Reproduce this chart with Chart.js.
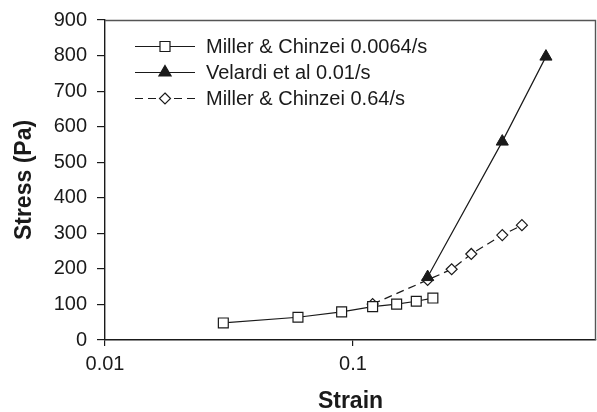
<!DOCTYPE html>
<html>
<head>
<meta charset="utf-8">
<script src="https://cdn.jsdelivr.net/npm/chart.js@4/dist/chart.umd.min.js"></script>
<style>
	html, body { margin: 0; padding: 0; background: #fff; }
	#wrap { width: 597px; height: 412px; }
</style>
</head>
<body>
<div id="wrap"><canvas id="stressChart" width="597" height="412"></canvas></div>
<script>
// Data
const seriesNames = ['Miller & Chinzei 0.0064/s', 'Velardi et al 0.01/s', 'Miller & Chinzei 0.64/s'];

const mcSlowStrain = [0.03, 0.06, 0.09, 0.12, 0.15, 0.18, 0.21];
const mcSlowStress = [48, 64, 79, 94, 101, 109, 118];

const velardiStrain = [0.2, 0.4, 0.6];
const velardiStress = [177, 558, 797];

const mcFastStrain = [0.12, 0.2, 0.25, 0.3, 0.4, 0.48];
const mcFastStress = [101, 169, 199, 242, 295, 323];

const xTickValues = [0.01, 0.1];
const yTickValues = [0, 100, 200, 300, 400, 500, 600, 700, 800, 900];

const FONT = '"Liberation Sans", Arial, Helvetica, sans-serif';
const INK = '#1a1a1a';

function toPoints(xs, ys) {
	return xs.map((x, i) => ({ x: x, y: ys[i] }));
}

// draws one marker (used by the hand made legend)
function drawMarker(ctx, style, x, y) {
	ctx.save();
	ctx.lineWidth = 1.2;
	ctx.strokeStyle = INK;
	ctx.beginPath();
	if (style === 'rect') {
		ctx.rect(x - 5, y - 5, 10, 10);
		ctx.fillStyle = '#fff';
	} else if (style === 'triangle') {
		ctx.moveTo(x, y - 7);
		ctx.lineTo(x + 6.1, y + 3.5);
		ctx.lineTo(x - 6.1, y + 3.5);
		ctx.closePath();
		ctx.fillStyle = INK;
	} else {
		ctx.moveTo(x, y - 5.5);
		ctx.lineTo(x + 5.5, y);
		ctx.lineTo(x, y + 5.5);
		ctx.lineTo(x - 5.5, y);
		ctx.closePath();
		ctx.fillStyle = '#fff';
	}
	ctx.fill();
	ctx.stroke();
	ctx.restore();
}

const legendPlugin = {
	id: 'sketchLegend',
	afterDraw(chart) {
		const ctx = chart.ctx;
		const rows = [46.5, 72.5, 98.5];
		chart.data.datasets.forEach((ds, i) => {
			const y = rows[i];
			ctx.save();
			ctx.strokeStyle = INK;
			ctx.lineWidth = 1.2;
			ctx.setLineDash(ds.borderDash || []);
			ctx.beginPath();
			ctx.moveTo(135, y);
			ctx.lineTo(195, y);
			ctx.stroke();
			ctx.restore();
			drawMarker(ctx, ds.pointStyle, 165, y);
			ctx.save();
			ctx.fillStyle = INK;
			ctx.font = '20px ' + FONT;
			ctx.textBaseline = 'middle';
			ctx.fillText(ds.label, 206, y + 1);
			ctx.restore();
		});
	},
};

// top and right edge of the plot box
const framePlugin = {
	id: 'frame',
	afterDraw(chart) {
		const a = chart.chartArea;
		const ctx = chart.ctx;
		ctx.save();
		ctx.strokeStyle = '#555';
		ctx.lineWidth = 1.4;
		ctx.beginPath();
		ctx.moveTo(a.left, a.top + 0.5);
		ctx.lineTo(a.right - 0.5, a.top + 0.5);
		ctx.lineTo(a.right - 0.5, a.bottom);
		ctx.stroke();
		ctx.restore();
	},
};

const ctx = document.getElementById('stressChart').getContext('2d');

const stressChart = new Chart(ctx, {
	type: 'line',
	data: {
		datasets: [
			{
				label: seriesNames[0],
				data: toPoints(mcSlowStrain, mcSlowStress),
				borderColor: INK,
				borderWidth: 1.2,
				pointStyle: 'rect',
				pointRadius: 7,
				pointBackgroundColor: '#fff',
				pointBorderColor: INK,
				pointBorderWidth: 1.2,
				tension: 0,
			},
			{
				label: seriesNames[1],
				data: toPoints(velardiStrain, velardiStress),
				borderColor: INK,
				borderWidth: 1.2,
				pointStyle: 'triangle',
				pointRadius: 7,
				pointBackgroundColor: INK,
				pointBorderColor: INK,
				pointBorderWidth: 1,
				tension: 0,
			},
			{
				label: seriesNames[2],
				data: toPoints(mcFastStrain, mcFastStress),
				borderColor: INK,
				borderWidth: 1.2,
				borderDash: [8, 5],
				pointStyle: 'rectRot',
				pointRadius: 5.5,
				pointBackgroundColor: '#fff',
				pointBorderColor: INK,
				pointBorderWidth: 1.2,
				tension: 0,
			},
		],
	},
	options: {
		responsive: false,
		animation: false,
		layout: { autoPadding: false, padding: { top: 20, right: 1, left: 0, bottom: 0 } },
		plugins: {
			legend: { display: false },
			tooltip: { enabled: false },
		},
		scales: {
			x: {
				type: 'logarithmic',
				position: 'bottom',
				min: 0.01,
				max: 0.955,
				afterBuildTicks: (scale) => {
					scale.ticks = xTickValues.map((v) => ({ value: v }));
				},
				afterFit: (scale) => {
					scale.height = 72;
					scale.paddingLeft = 0;
					scale.paddingRight = 0;
				},
				grid: {
					drawOnChartArea: false,
					drawTicks: true,
					tickLength: 6,
					color: INK,
					lineWidth: 1.2,
				},
				border: { color: INK, width: 1.4 },
				ticks: {
					color: INK,
					font: { family: FONT, size: 20 },
					padding: 6,
					maxRotation: 0,
					autoSkip: false,
					callback: (v) => String(v),
				},
				title: {
					display: true,
					text: 'Strain',
					color: INK,
					font: { family: FONT, size: 23, weight: 'bold' },
					padding: { top: 0, bottom: -3 },
				},
			},
			y: {
				type: 'linear',
				min: 0,
				max: 900,
				afterBuildTicks: (scale) => {
					scale.ticks = yTickValues.map((v) => ({ value: v }));
				},
				afterFit: (scale) => {
					scale.width = 105;
					scale.paddingTop = 0;
					scale.paddingBottom = 0;
				},
				grid: {
					drawOnChartArea: false,
					drawTicks: true,
					tickLength: 8,
					color: INK,
					lineWidth: 1.2,
				},
				border: { color: INK, width: 1.4 },
				ticks: {
					color: INK,
					font: { family: FONT, size: 20 },
					padding: 10,
				},
				title: {
					display: true,
					text: 'Stress (Pa)',
					color: INK,
					font: { family: FONT, size: 23, weight: 'bold' },
					padding: { top: 11, bottom: 0 },
				},
			},
		},
	},
	plugins: [legendPlugin, framePlugin],
});
</script>
</body>
</html>
